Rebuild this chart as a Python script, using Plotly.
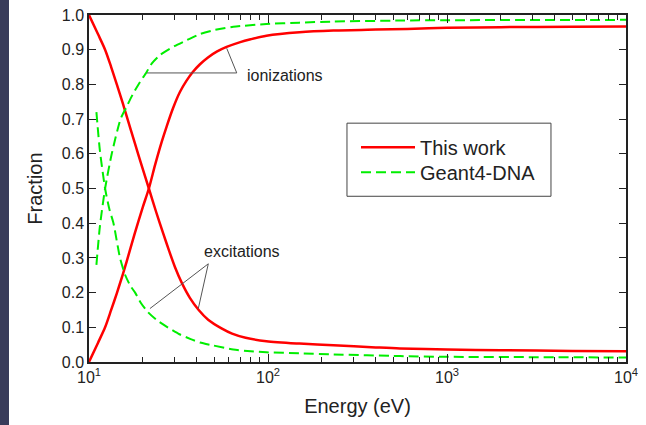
import plotly.graph_objects as go

# ---- data ----
e_red_exc = [10, 11.22, 12.3, 13.3, 14.3, 15.5, 16.2, 18, 20, 21.6, 23.7, 26, 28, 30.2, 33,
             36.6, 41, 46.3, 55, 63, 75, 98, 150, 232, 400, 546, 1000, 2000, 5000, 10000]
red_exc = [1.0, 0.945, 0.90, 0.85, 0.80, 0.743, 0.71, 0.632, 0.555, 0.5, 0.433, 0.37, 0.321,
           0.274, 0.228, 0.185, 0.15, 0.122, 0.097, 0.082, 0.07, 0.06, 0.053, 0.048, 0.042,
           0.039, 0.036, 0.034, 0.032, 0.031]

e_red_ion = [10, 11.22, 12.3, 13.3, 14.3, 15.5, 16.2, 18, 20, 21.6, 23.4, 25.5, 27.2, 29.5,
             32.2, 35, 37.9, 41.7, 46, 52, 58.7, 70, 80, 98, 150, 232, 400, 600, 1000, 2000,
             5000, 10000]
red_ion = [0.0, 0.055, 0.10, 0.15, 0.198, 0.255, 0.288, 0.37, 0.447, 0.5, 0.568, 0.635, 0.68,
           0.732, 0.778, 0.81, 0.835, 0.858, 0.877, 0.895, 0.908, 0.922, 0.93, 0.94, 0.95,
           0.955, 0.958, 0.96, 0.963, 0.965, 0.966, 0.967]

e_g4_ion = [11.0, 11.5, 12.3, 13.4, 15.0, 16.2, 17.5, 18.9, 21.0, 22.4, 25, 30, 34.4, 41.7,
            50.6, 64, 98, 150, 232, 546, 1000, 10000]
g4_ion = [0.28, 0.39, 0.5, 0.6, 0.7, 0.735, 0.77, 0.8, 0.836, 0.86, 0.885, 0.91, 0.925, 0.945,
          0.957, 0.966, 0.974, 0.978, 0.981, 0.984, 0.985, 0.986]

e_g4_exc = [11.0, 11.5, 12.3, 13.0, 13.7, 14.9, 15.95, 17, 18.1, 19.5, 21.3, 24, 27.5, 32, 37,
            41.7, 49, 64, 80, 98, 150, 232, 546, 1000, 3000, 10000]
g4_exc = [0.72, 0.61, 0.5, 0.44, 0.40, 0.30, 0.25, 0.22, 0.20, 0.17, 0.144, 0.12, 0.10, 0.08,
          0.066, 0.056, 0.048, 0.036, 0.031, 0.028, 0.025, 0.022, 0.017, 0.015, 0.014, 0.013]

x_tickvals = [10, 100, 1000, 10000]
x_ticktext = ["10<sup>1</sup>", "10<sup>2</sup>", "10<sup>3</sup>", "10<sup>4</sup>"]

# pointer lines for labels (energy, fraction)
ion_ptr_e = [21.0, 66.9, 58.8]
ion_ptr_f = [0.833, 0.833, 0.904]
exc_ptr_e = [21.9, 46.4, 40.8]
exc_ptr_f = [0.154, 0.283, 0.154]

RED = "#ff0000"
GREEN = "#00ee00"
TXT = "#222222"
FONT = "Liberation Sans, Arial, sans-serif"

fig = go.Figure()
fig.add_trace(go.Scatter(x=e_red_exc, y=red_exc, mode="lines", name="This work",
                         legend="legend",
                         line=dict(color=RED, width=2.5, shape="spline", smoothing=0.8)))
fig.add_trace(go.Scatter(x=e_red_ion, y=red_ion, mode="lines", showlegend=False,
                         line=dict(color=RED, width=2.5, shape="spline", smoothing=0.8)))
fig.add_trace(go.Scatter(x=e_g4_ion, y=g4_ion, mode="lines", name="Geant4-DNA",
                         legend="legend2",
                         line=dict(color=GREEN, width=2, dash="10px,5px", shape="spline",
                                   smoothing=0.6)))
fig.add_trace(go.Scatter(x=e_g4_exc, y=g4_exc, mode="lines", showlegend=False,
                         line=dict(color=GREEN, width=2, dash="10px,5px", shape="spline",
                                   smoothing=0.6)))
fig.add_trace(go.Scatter(x=ion_ptr_e, y=ion_ptr_f, mode="lines", showlegend=False,
                         line=dict(color="#555555", width=1)))
fig.add_trace(go.Scatter(x=exc_ptr_e, y=exc_ptr_f, mode="lines", showlegend=False,
                         line=dict(color="#555555", width=1)))

fig.add_annotation(x=1.8716, y=0.827, xref="x", yref="y", text="ionizations",
                   showarrow=False, xanchor="left", yanchor="middle",
                   font=dict(size=16, color=TXT, family=FONT))
fig.add_annotation(x=1.855, y=0.319, xref="x", yref="y", text="excitations",
                   showarrow=False, xanchor="center", yanchor="middle",
                   font=dict(size=16, color=TXT, family=FONT))

# dark strip on the left edge of the image
fig.add_shape(type="rect", xref="paper", yref="paper",
              x0=-90 / 537, x1=-80 / 537, y0=-64 / 346.5, y1=1 + 16 / 346.5,
              fillcolor="#383b5a", line=dict(width=0), layer="below")
# legend frame
fig.add_shape(type="rect", xref="paper", yref="paper",
              x0=0.4804, x1=0.8603, y0=0.4776, y1=0.6883,
              fillcolor="white", line=dict(color="#444444", width=1), layer="above")

axis_common = dict(showline=True, linecolor="#222222", linewidth=1.5, mirror="ticks",
                   ticks="inside", tickcolor="#222222", tickwidth=1, showgrid=False,
                   zeroline=False, tickfont=dict(size=16, color=TXT, family=FONT))

fig.update_xaxes(type="log", range=[1, 4], tickvals=x_tickvals, ticktext=x_ticktext,
                 ticklen=8,
                 minor=dict(ticks="inside", ticklen=5, tickcolor="#222222", dtick="D1",
                            showgrid=False),
                 title=dict(text="Energy (eV)", font=dict(size=20, color=TXT, family=FONT),
                            standoff=14),
                 **axis_common)
fig.update_yaxes(range=[0, 1], dtick=0.1, tickformat=".1f", ticklen=7,
                 title=dict(text="Fraction", font=dict(size=20, color=TXT, family=FONT),
                            standoff=14),
                 **axis_common)

leg_common = dict(xanchor="left", yanchor="middle", borderwidth=0,
                  bgcolor="rgba(0,0,0,0)", font=dict(size=20, color=TXT, family=FONT),
                  itemwidth=54)
fig.update_layout(
    width=646, height=425,
    margin=dict(l=89, r=20, t=15, b=63, autoexpand=False),
    paper_bgcolor="white", plot_bgcolor="white",
    font=dict(family=FONT, color=TXT),
    legend=dict(x=(356 - 89) / 537, y=(361.5 - 147) / 346.5, **leg_common),
    legend2=dict(x=(356 - 89) / 537, y=(361.5 - 172) / 346.5, **leg_common),
)

fig.write_html("out.html", config={"displayModeBar": False},
               post_script="document.body.style.margin='0';document.body.style.overflow='hidden';")
